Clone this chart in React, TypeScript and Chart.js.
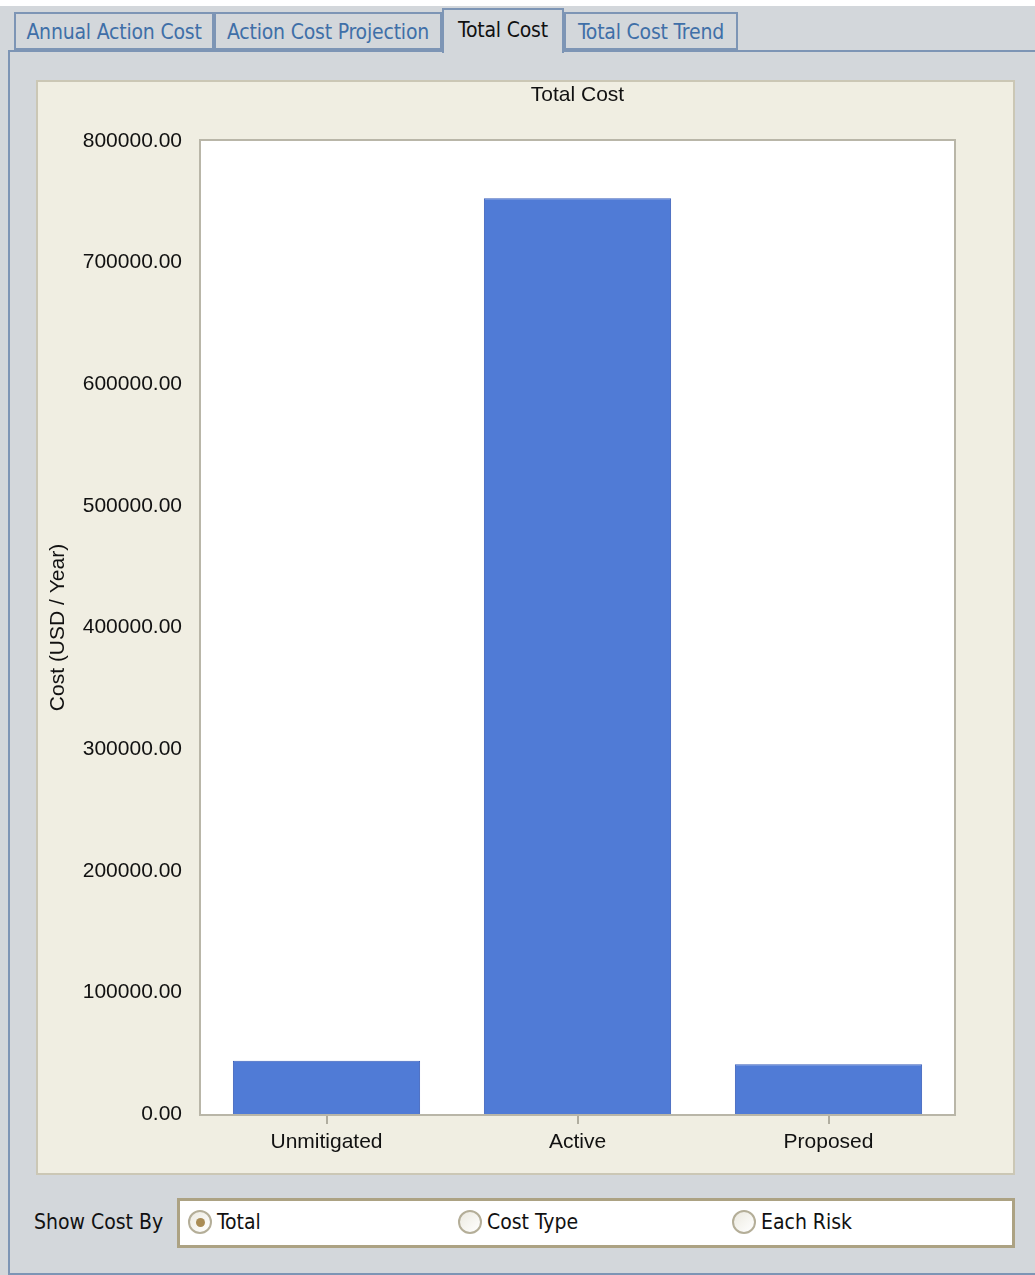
import React, { useEffect, useRef } from "react";
import { Chart, registerables } from "chart.js";

Chart.register(...registerables);

const categories = ["Unmitigated", "Active", "Proposed"];
const totalCost = [43800, 753000, 40900];
const yTicks = [0, 100000, 200000, 300000, 400000, 500000, 600000, 700000, 800000];
const tabLabels = ["Annual Action Cost", "Action Cost Projection", "Total Cost", "Total Cost Trend"];
const radioLabels = ["Total", "Cost Type", "Each Risk"];
const chartTitle = "Total Cost";
const yAxisTitle = "Cost (USD / Year)";

const UI_FONT = "'DejaVu Sans Condensed', 'Noto Sans', 'Liberation Sans', sans-serif";
const CHART_FONT = "'Liberation Sans', Arial, sans-serif";

const plotBox = {
  id: "plotBox",
  beforeDraw(chart: any) {
    const { ctx, chartArea: a } = chart;
    ctx.save();
    ctx.fillStyle = "#ffffff";
    ctx.fillRect(a.left, a.top, a.right - a.left, a.bottom - a.top);
    ctx.restore();
  },
  afterDatasetsDraw(chart: any) {
    const { ctx, chartArea: a } = chart;
    ctx.save();
    ctx.strokeStyle = "#B9B6A8";
    ctx.lineWidth = 2;
    ctx.strokeRect(a.left - 1, a.top - 1, a.right - a.left + 2, a.bottom - a.top + 2);
    ctx.fillStyle = "#111111";
    ctx.font = `21px ${CHART_FONT}`;
    ctx.textAlign = "center";
    ctx.textBaseline = "middle";
    ctx.fillText(chartTitle, (a.left + a.right) / 2, 13);
    ctx.restore();
  },
};

function TotalCostChart() {
  const ref = useRef<HTMLCanvasElement | null>(null);
  useEffect(() => {
    if (!ref.current) return;
    const chart = new Chart(ref.current, {
      type: "bar",
      data: {
        labels: categories,
        datasets: [
          {
            label: chartTitle,
            data: totalCost,
            backgroundColor: "#507BD6",
            borderColor: "#3A5FBA",
            borderWidth: 1,
            barPercentage: 0.746,
            categoryPercentage: 1,
          },
        ],
      },
      options: {
        responsive: false,
        animation: false,
        devicePixelRatio: 1,
        layout: { padding: { left: 0, right: 59, top: 59, bottom: 0 } },
        plugins: {
          legend: { display: false },
          tooltip: { enabled: false },
          title: { display: false },
        },
        scales: {
          x: {
            grid: {
              display: true,
              drawOnChartArea: false,
              drawTicks: true,
              tickLength: 10,
              offset: false,
              color: "#B0AD9F",
              lineWidth: 2,
            },
            border: { display: false },
            ticks: {
              color: "#111111",
              font: { family: CHART_FONT, size: 21 },
              padding: 6,
              maxRotation: 0,
            },
            afterFit(scale: any) {
              scale.height = 59;
            },
          },
          y: {
            min: 0,
            max: 800000,
            afterBuildTicks(scale: any) {
              scale.ticks = yTicks.map((v) => ({ value: v }));
            },
            grid: { display: false, drawTicks: false },
            border: { display: false },
            ticks: {
              color: "#111111",
              font: { family: CHART_FONT, size: 21 },
              padding: 19,
              callback: (v: any) => Number(v).toFixed(2),
            },
            title: {
              display: true,
              text: yAxisTitle,
              color: "#111111",
              font: { family: CHART_FONT, size: 21 },
              padding: { top: 8, bottom: 0 },
            },
            afterFit(scale: any) {
              scale.width = 163;
            },
          },
        },
      },
      plugins: [plotBox],
    });
    return () => chart.destroy();
  }, []);
  return <canvas ref={ref} width={975} height={1091} style={{ display: "block", width: 975, height: 1091 }} />;
}

const tabGeom = [
  { left: 14, width: 200 },
  { left: 214, width: 228 },
  { left: 442, width: 122 },
  { left: 564, width: 174 },
];

export default function App() {
  const selected = 2;
  const radioX = [188, 458, 732];
  return (
    <div
      style={{
        position: "absolute",
        left: 0,
        top: 0,
        width: 1035,
        height: 1275,
        background: "#ffffff",
        overflow: "hidden",
        fontFamily: UI_FONT,
      }}
    >
      <div style={{ position: "absolute", left: 0, top: 6, width: 1035, height: 1269, background: "#D3D7DB" }} />
      <div
        style={{
          position: "absolute",
          left: 8,
          top: 50,
          width: 1040,
          height: 1221,
          borderLeft: "2px solid #7D95B5",
          borderTop: "2px solid #7D95B5",
          borderBottom: "3px solid #7D95B5",
          background: "#D3D7DB",
        }}
      />
      {tabLabels.map((t, i) => {
        const g = tabGeom[i];
        const sel = i === selected;
        return (
          <div
            key={t}
            style={{
              position: "absolute",
              left: g.left,
              top: sel ? 8 : 12,
              width: g.width,
              height: sel ? 45 : 38,
              boxSizing: "border-box",
              border: "2px solid #7D95B5",
              borderBottom: sel ? "none" : "2px solid #7D95B5",
              background: "#D3D7DB",
              color: sel ? "#111111" : "#3F6FA8",
              fontSize: 21,
              letterSpacing: -0.2,
              lineHeight: sel ? "40px" : "36px",
              textAlign: "center",
              whiteSpace: "nowrap",
              zIndex: sel ? 2 : 1,
            }}
          >
            {t}
          </div>
        );
      })}
      <div
        style={{
          position: "absolute",
          left: 36,
          top: 80,
          width: 979,
          height: 1095,
          boxSizing: "border-box",
          border: "2px solid #CBC7B5",
          background: "#F0EEE2",
        }}
      >
        <TotalCostChart />
      </div>
      <div
        style={{
          position: "absolute",
          left: 34,
          top: 1207,
          fontSize: 21,
          lineHeight: "30px",
          color: "#111111",
          whiteSpace: "nowrap",
        }}
      >
        Show Cost By
      </div>
      <div
        style={{
          position: "absolute",
          left: 177,
          top: 1198,
          width: 838,
          height: 50,
          boxSizing: "border-box",
          border: "3px solid #ACA283",
          background: "#ffffff",
        }}
      />
      {radioLabels.map((r, i) => (
        <div key={r} style={{ position: "absolute", left: radioX[i], top: 1209 }}>
          <div
            style={{
              position: "absolute",
              left: 0,
              top: 1,
              width: 24,
              height: 24,
              boxSizing: "border-box",
              borderRadius: "50%",
              border: "2px solid #B4AE98",
              background: "linear-gradient(135deg, #ECEAE0, #FFFFFF)",
            }}
          >
            {i === 0 && (
              <div
                style={{
                  position: "absolute",
                  left: 6,
                  top: 6,
                  width: 9,
                  height: 9,
                  borderRadius: "50%",
                  background: "#A98C55",
                }}
              />
            )}
          </div>
          <div
            style={{
              position: "absolute",
              left: 29,
              top: -2,
              fontSize: 21,
              lineHeight: "30px",
              color: "#111111",
              whiteSpace: "nowrap",
            }}
          >
            {r}
          </div>
        </div>
      ))}
    </div>
  );
}
